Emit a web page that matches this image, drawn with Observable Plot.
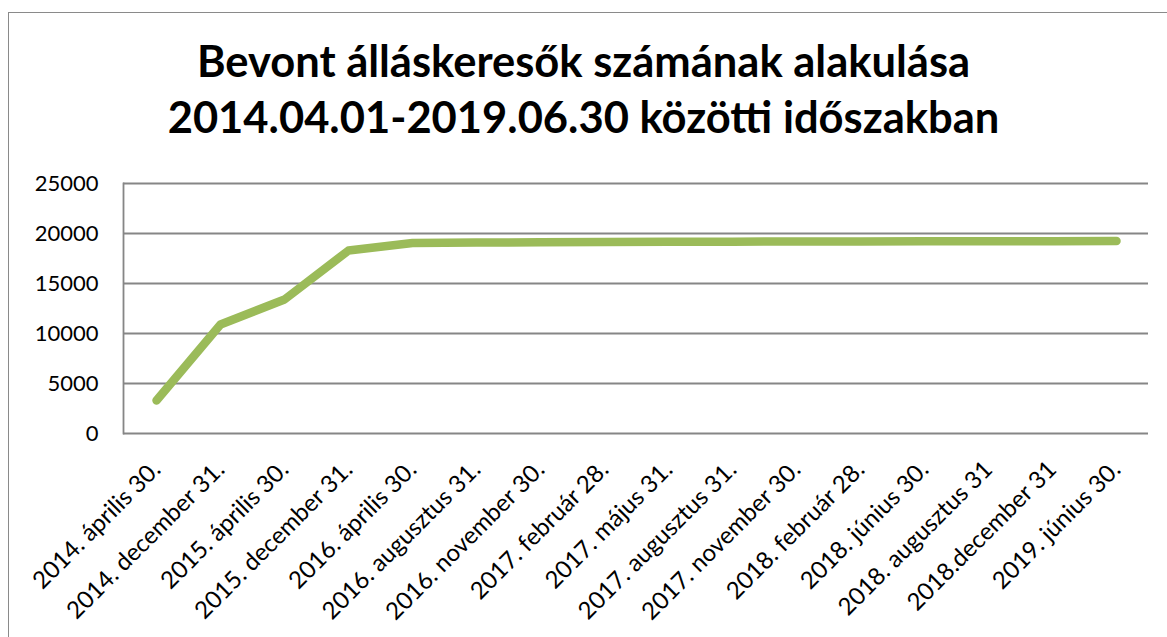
<!DOCTYPE html>
<html>
<head>
<meta charset="utf-8">
<script src="https://cdn.jsdelivr.net/npm/d3@7"></script>
<script src="https://cdn.jsdelivr.net/npm/@observablehq/plot@0.6"></script>
<style>
  html, body { margin: 0; padding: 0; background: #fff; overflow: hidden; }
  #wrap { position: relative; width: 1167px; height: 637px; font-family: Lato, "Open Sans", sans-serif; }
  #frame { position: absolute; left: 8px; top: 12px; width: 1180px; height: 660px; border: 1.5px solid #8a8a8a; box-sizing: border-box; pointer-events: none; }
  #title { height: 165px; box-sizing: border-box; padding-top: 32px; text-align: center; font-weight: bold; font-size: 43.5px; line-height: 56px; color: #000; }
  #chart svg { display: block; }
</style>
</head>
<body>
<div id="wrap">
  <div id="frame"></div>
  <div id="title">Bevont álláskeresők számának alakulása<br>2014.04.01-2019.06.30 közötti időszakban</div>
  <div id="chart"></div>
</div>
<script>
const labels = [
  "2014. április 30.", "2014. december 31.", "2015. április 30.", "2015. december 31.",
  "2016. április 30.", "2016. augusztus 31.", "2016. november 30.", "2017. február 28.",
  "2017. május 31.", "2017. augusztus 31.", "2017. november 30.", "2018. február 28.",
  "2018. június 30.", "2018. augusztus 31", "2018.december 31", "2019. június 30."
];
const values = [3300, 10900, 13400, 18300, 19050, 19100, 19120, 19150, 19170, 19180, 19200, 19210, 19220, 19230, 19230, 19240];
const yTicks = [0, 5000, 10000, 15000, 20000, 25000];

const data = labels.map((label, i) => ({label, value: values[i]}));

const chart = Plot.plot({
  width: 1167,
  height: 472,
  marginTop: 18,
  marginBottom: 204,
  marginLeft: 123,
  marginRight: 19,
  style: {fontFamily: "Lato, 'Open Sans', sans-serif", fontSize: "22px", color: "#000", background: "transparent"},
  x: {type: "point", domain: labels, padding: 0.5, label: null},
  y: {domain: [0, 25000], ticks: yTicks, label: null},
  marks: [
    Plot.gridY(yTicks, {stroke: "#868686", strokeOpacity: 1, strokeWidth: 1.8}),
    Plot.frame({anchor: "left", stroke: "#868686", strokeWidth: 1.8}),
    Plot.axisY({ticks: yTicks, tickSize: 0, tickPadding: 25, tickFormat: d => String(d), fontSize: 22, label: null}),
    Plot.axisX({tickSize: 0, tickPadding: 32, tickRotate: -45, fontSize: 24, label: null}),
    Plot.line(data, {x: "label", y: "value", stroke: "#9BBB59", strokeWidth: 8.5, strokeLinecap: "round", strokeLinejoin: "round"})
  ]
});
document.getElementById("chart").appendChild(chart);
</script>
</body>
</html>
